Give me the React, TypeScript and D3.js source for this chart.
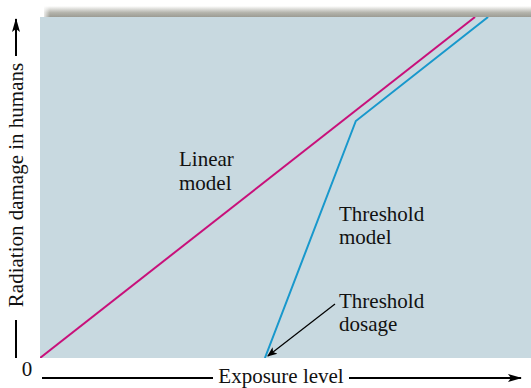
import React from "react";
import * as d3 from "d3";

const linearModel: [number, number][] = [[0, 0], [10, 10]];
const thresholdModel: [number, number][] = [[5.17, 0], [7.26, 6.95], [10.3, 10]];
const linearLabel = ["Linear", "model"];
const thresholdLabel = ["Threshold", "model"];
const dosageLabel = ["Threshold", "dosage"];
const xTitle = "Exposure level";
const yTitle = "Radiation damage in humans";
const originLabel = "0";

const W = 531, H = 388;
const L = 40, R = 531, T = 17, B = 358;

export default function App() {
  const x = d3.scaleLinear().domain([0, 11.287]).range([L, R]);
  const y = d3.scaleLinear().domain([0, 10]).range([B, T]);
  const line = d3.line<[number, number]>().x(d => x(d[0])).y(d => y(d[1]));
  const font = "'Liberation Serif', 'Times New Roman', serif";
  const ax = x(thresholdModel[0][0]);
  const fs = 21;
  return (
    <svg width={W} height={H} style={{ position: "absolute", left: 0, top: 0, background: "#fff" }} fontFamily={font}>
      <defs>
        <linearGradient id="shadow" x1="0" y1="0" x2="0" y2="1">
          <stop offset="0" stopColor="#ffffff" />
          <stop offset="0.6" stopColor="#b4b4ac" />
          <stop offset="1" stopColor="#9c9c94" />
        </linearGradient>
        <linearGradient id="shadowL" x1="0" y1="0" x2="1" y2="0">
          <stop offset="0" stopColor="#fff" stopOpacity="1" />
          <stop offset="1" stopColor="#fff" stopOpacity="0" />
        </linearGradient>
        <clipPath id="plot"><rect x={L} y={T} width={R - L} height={B - T} /></clipPath>
        <marker id="ah" viewBox="0 0 10 10" refX="9" refY="5" markerWidth="10" markerHeight="10" markerUnits="userSpaceOnUse" orient="auto">
          <path d="M0,1 L10,5 L0,9 L2.5,5 Z" fill="#000" />
        </marker>
        <marker id="ahBig" viewBox="0 0 14 10" refX="13" refY="5" markerWidth="14" markerHeight="10" markerUnits="userSpaceOnUse" orient="auto">
          <path d="M0,1 L14,5 L0,9 L3,5 Z" fill="#000" />
        </marker>
      </defs>
      <rect x={L + 4} y={6} width={R - L - 4} height={T - 6} fill="url(#shadow)" />
      <rect x={L + 2} y={6} width={8} height={T - 6} fill="url(#shadowL)" />
      <rect x={L} y={T} width={R - L} height={B - T} fill="#c8d9e0" />
      <g clipPath="url(#plot)">
        <path d={line(linearModel) || ""} fill="none" stroke="#c8107a" strokeWidth={2} />
        <path d={line(thresholdModel) || ""} fill="none" stroke="#1898cc" strokeWidth={2} />
      </g>
      <text fontSize={fs} fill="#111">
        <tspan x={179} y={166}>{linearLabel[0]}</tspan>
        <tspan x={179} y={190}>{linearLabel[1]}</tspan>
      </text>
      <text fontSize={fs} fill="#111">
        <tspan x={339} y={221}>{thresholdLabel[0]}</tspan>
        <tspan x={339} y={244}>{thresholdLabel[1]}</tspan>
      </text>
      <text fontSize={fs} fill="#111">
        <tspan x={339} y={308}>{dosageLabel[0]}</tspan>
        <tspan x={339} y={331}>{dosageLabel[1]}</tspan>
      </text>
      <line x1={335} y1={304} x2={ax + 3} y2={B - 2} stroke="#000" strokeWidth={1.2} markerEnd="url(#ah)" />
      <text x={27} y={376} fontSize={fs} textAnchor="middle" fill="#111">{originLabel}</text>
      <line x1={42} y1={378} x2={213} y2={378} stroke="#000" strokeWidth={2} />
      <text x={281} y={383} fontSize={fs} textAnchor="middle" fill="#111">{xTitle}</text>
      <line x1={349} y1={378} x2={521} y2={378} stroke="#000" strokeWidth={2} markerEnd="url(#ahBig)" />
      <line x1={16} y1={320} x2={16} y2={358} stroke="#000" strokeWidth={2} />
      <text transform={`translate(23,${185}) rotate(-90)`} fontSize={fs} textAnchor="middle" fill="#111">{yTitle}</text>
      <line x1={16} y1={56} x2={16} y2={19} stroke="#000" strokeWidth={2} markerEnd="url(#ahBig)" />
    </svg>
  );
}
